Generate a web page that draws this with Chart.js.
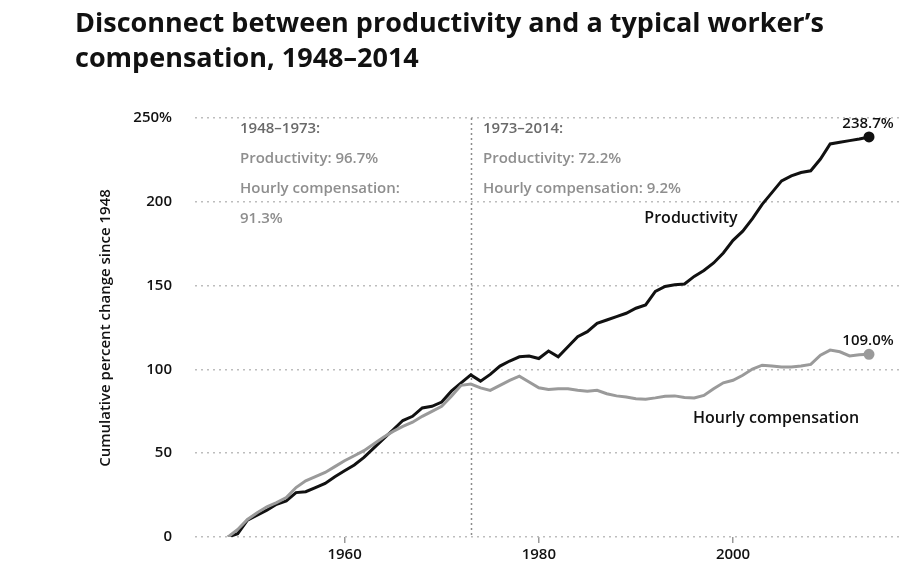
<!DOCTYPE html>
<html>
<head>
<meta charset="utf-8">
<script src="https://cdn.jsdelivr.net/npm/chart.js@4.4.1/dist/chart.umd.min.js"></script>
<style>
  html, body { margin: 0; padding: 0; background: #fff; }
  #wrap { position: relative; width: 924px; height: 587px; }
  #title {
    position: absolute; left: 75px; top: 4px;
    font-family: "Open Sans", Roboto, sans-serif; font-weight: 700;
    font-size: 27px; line-height: 35px; color: #111; letter-spacing: 0px;
  }
  canvas { position: absolute; left: 0; top: 0; }
</style>
</head>
<body>
<div id="wrap">
  <canvas id="chart" width="924" height="587"></canvas>
  <div id="title">Disconnect between productivity and a typical worker’s<br>compensation, 1948–2014</div>
</div>
<script>
const years = [1948, 1949, 1950, 1951, 1952, 1953, 1954, 1955, 1956, 1957,
  1958, 1959, 1960, 1961, 1962, 1963, 1964, 1965, 1966, 1967,
  1968, 1969, 1970, 1971, 1972, 1973, 1974, 1975, 1976, 1977,
  1978, 1979, 1980, 1981, 1982, 1983, 1984, 1985, 1986, 1987,
  1988, 1989, 1990, 1991, 1992, 1993, 1994, 1995, 1996, 1997,
  1998, 1999, 2000, 2001, 2002, 2003, 2004, 2005, 2006, 2007,
  2008, 2009, 2010, 2011, 2012, 2013, 2014];

const productivity = [0, 2, 10, 13, 16, 19.5, 21.5, 26.5, 27, 29.5,
  32, 36, 39.5, 43, 47.5, 53, 58.5, 64, 69.5, 72,
  77, 78, 80.5, 87, 92, 96.7, 93, 97, 102, 105,
  107.5, 108, 106.5, 111, 107.5, 113.5, 119.5, 122.5, 127.5, 129.5,
  131.5, 133.5, 136.5, 138.5, 146.5, 149.5, 150.5, 151, 155.5, 159,
  163.5, 169.5, 177, 182.5, 190, 198.5, 205.5, 212.5, 215.5, 217.5,
  218.5, 225.5, 234.5, 235.5, 236.5, 237.5, 238.7];

const compensation = [0, 4.5, 10.5, 14.5, 18, 20.5, 23.5, 29.5, 33.5, 36,
  38.5, 42, 45.5, 48.5, 51.5, 55.5, 59.5, 63, 66, 68.5,
  72, 75, 78, 84, 90.5, 91.3, 89, 87.5, 90.5, 93.5,
  96, 92.5, 89, 88, 88.5, 88.5, 87.5, 87, 87.5, 85.5,
  84.2, 83.5, 82.5, 82.2, 83, 84, 84.2, 83.3, 83, 84.5,
  88.5, 92, 93.5, 96.5, 100.2, 102.5, 102, 101.5, 101.5, 102,
  103, 108.5, 111.5, 110.5, 108, 108.8, 109.0];

const yTicks = [0, 50, 100, 150, 200, 250];
const xTicks = [1960, 1980, 2000];

const leftNotes = ['1948–1973:', 'Productivity: 96.7%', 'Hourly compensation:', '91.3%'];
const rightNotes = ['1973–2014:', 'Productivity: 72.2%', 'Hourly compensation: 9.2%'];

const toPoints = vals => vals.map((v, i) => ({ x: years[i], y: v }));
const lastOnly = ctx => ctx.dataIndex === years.length - 1 ? 4 : 0;

const FONT = '"Open Sans", Roboto, sans-serif';

const notesPlugin = {
  id: 'notes',
  beforeDatasetsDraw(chart) {
    const { ctx, chartArea, scales } = chart;
    const x = Math.round(scales.x.getPixelForValue(1973)) + 0.5;
    ctx.save();
    ctx.strokeStyle = '#8c8c8c';
    ctx.lineWidth = 1.5;
    ctx.setLineDash([2, 3]);
    ctx.beginPath();
    ctx.moveTo(x, chartArea.top);
    ctx.lineTo(x, chartArea.bottom);
    ctx.stroke();
    ctx.restore();
  },
  afterDraw(chart) {
    const { ctx, scales } = chart;
    const xEnd = scales.x.getPixelForValue(2014);
    ctx.save();
    ctx.textBaseline = 'middle';
    ctx.textAlign = 'left';
    ctx.font = '600 15px ' + FONT;
    leftNotes.forEach((t, i) => {
      ctx.fillStyle = i === 0 ? '#6a6a6a' : '#8e8e8e';
      ctx.fillText(t, 240, 129 + i * 30);
    });
    rightNotes.forEach((t, i) => {
      ctx.fillStyle = i === 0 ? '#6a6a6a' : '#8e8e8e';
      ctx.fillText(t, 483, 129 + i * 30);
    });

    ctx.fillStyle = '#111';
    ctx.font = '600 16px ' + FONT;
    ctx.textAlign = 'center';
    ctx.fillText('Productivity', 691, 218);
    ctx.fillText('Hourly compensation', 776, 418);
    ctx.font = '600 15px ' + FONT;
    ctx.fillText('238.7%', xEnd - 1, 124);
    ctx.fillText('109.0%', xEnd - 1, 341);

    // y axis title
    ctx.save();
    ctx.translate(106, 328);
    ctx.rotate(-Math.PI / 2);
    ctx.font = '600 15px ' + FONT;
    ctx.fillStyle = '#111';
    ctx.fillText('Cumulative percent change since 1948', 0, 0);
    ctx.restore();
    ctx.restore();
  }
};

new Chart(document.getElementById('chart').getContext('2d'), {
  type: 'line',
  data: {
    datasets: [
      {
        label: 'Hourly compensation',
        data: toPoints(compensation),
        borderColor: '#9a9a9a',
        backgroundColor: '#9a9a9a',
        borderWidth: 3,
        pointRadius: lastOnly,
        pointHoverRadius: 0,
        tension: 0
      },
      {
        label: 'Productivity',
        data: toPoints(productivity),
        borderColor: '#111',
        backgroundColor: '#111',
        borderWidth: 3,
        pointRadius: lastOnly,
        pointHoverRadius: 0,
        tension: 0
      }
    ]
  },
  options: {
    responsive: false,
    animation: false,
    layout: { padding: { top: 118, right: 21, bottom: 0, left: 0 } },
    plugins: {
      legend: { display: false },
      tooltip: { enabled: false },
      title: { display: false }
    },
    scales: {
      x: {
        type: 'linear',
        min: 1944.6,
        max: 2017.5,
        afterBuildTicks: s => { s.ticks = xTicks.map(v => ({ value: v })); },
        afterFit: s => { s.height = 50; },
        border: { display: false },
        grid: { drawOnChartArea: false, drawTicks: true, tickLength: 6, color: '#999', lineWidth: 1.5 },
        ticks: {
          color: '#111',
          font: { family: FONT, size: 15, weight: '600' },
          padding: 3,
          maxRotation: 0,
          callback: v => String(v)
        }
      },
      y: {
        min: 0,
        max: 250,
        afterBuildTicks: s => { s.ticks = yTicks.map(v => ({ value: v })); },
        afterFit: s => { s.width = 195; },
        border: { display: false, dash: [2, 4] },
        grid: { color: '#bdbdbd', lineWidth: 1.5, drawTicks: false },
        ticks: {
          color: '#111',
          font: { family: FONT, size: 15, weight: '600' },
          padding: 23,
          callback: v => v === 250 ? '250%' : String(v)
        }
      }
    }
  },
  plugins: [notesPlugin]
});
</script>
</body>
</html>
